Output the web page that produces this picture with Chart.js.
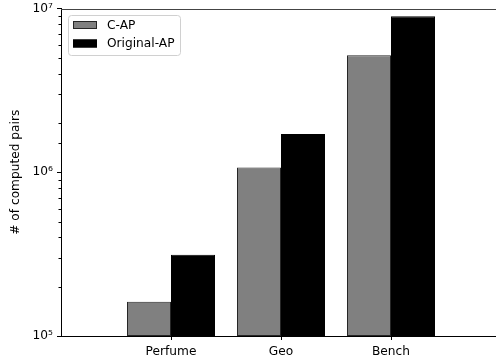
<!DOCTYPE html>
<html>
<head>
<meta charset="utf-8">
<script src="https://cdn.jsdelivr.net/npm/chart.js@4.4.0/dist/chart.umd.min.js"></script>
<style>
  html, body { margin: 0; padding: 0; background: #fff; overflow: hidden; }
  #wrap { width: 496px; height: 360px; overflow: hidden; position: relative; }
  canvas { display: block; }
</style>
</head>
<body>
<div id="wrap"><canvas id="c" width="510" height="360"></canvas></div>
<script>
// Number of computed pairs per dataset, for both AP variants
const categories = ['Perfume', 'Geo', 'Bench'];
const capValues = [162000, 1070000, 5190000];
const originalValues = [313000, 1710000, 8980000];
const yTickPowers = [5, 6, 7];
const seriesNames = ['C-AP', 'Original-AP'];

const FONT_SIZE = 12.2;
const SUP = { '0': '\u2070', '1': '\u00b9', '2': '\u00b2', '3': '\u00b3', '4': '\u2074',
              '5': '\u2075', '6': '\u2076', '7': '\u2077', '8': '\u2078', '9': '\u2079' };
const powLabel = p => '10' + String(p).split('').map(d => SUP[d]).join('');
const isPow10 = v => Math.abs(Math.log10(v) - Math.round(Math.log10(v))) < 1e-9;

Chart.defaults.font.family = "'DejaVu Sans', sans-serif";
Chart.defaults.font.size = FONT_SIZE;
Chart.defaults.color = '#000';

// Minor log ticks, top spine and the boxed legend
const decorations = {
  id: 'decorations',
  afterDraw(chart) {
    const ctx = chart.ctx;
    const area = chart.chartArea;
    const y = chart.scales.y;
    ctx.save();
    ctx.strokeStyle = '#000';
    ctx.lineWidth = 1;
    y.ticks.forEach(t => {
      if (isPow10(t.value)) return;
      const py = Math.round(y.getPixelForValue(t.value)) + 0.5;
      ctx.beginPath();
      ctx.moveTo(area.left - 2.5, py);
      ctx.lineTo(area.left, py);
      ctx.stroke();
    });
    // top spine
    ctx.strokeStyle = '#444';
    ctx.beginPath();
    ctx.moveTo(area.left, Math.round(area.top) + 0.5);
    ctx.lineTo(area.right, Math.round(area.top) + 0.5);
    ctx.stroke();

    // legend
    const lx = area.left + 7, ly = Math.round(area.top) + 6, lw = 112, lh = 40;
    ctx.fillStyle = 'rgba(255,255,255,0.85)';
    ctx.strokeStyle = '#d0d0d0';
    ctx.beginPath();
    ctx.roundRect(lx + 0.5, ly + 0.5, lw, lh, 3);
    ctx.fill();
    ctx.stroke();
    chart.data.datasets.forEach((ds, i) => {
      const ry = ly + 6 + i * 18.5;
      ctx.fillStyle = ds.backgroundColor;
      ctx.fillRect(lx + 5, ry, 24, 8);
      ctx.strokeStyle = ds.borderColor;
      ctx.strokeRect(lx + 5.5, ry + 0.5, 23, 7);
      ctx.fillStyle = '#000';
      ctx.font = FONT_SIZE + "px 'DejaVu Sans', sans-serif";
      ctx.textBaseline = 'middle';
      ctx.textAlign = 'left';
      ctx.fillText(ds.label, lx + 39, ry + 4.5);
    });
    ctx.restore();
  }
};

new Chart(document.getElementById('c'), {
  type: 'bar',
  data: {
    datasets: [
      {
        label: seriesNames[0],
        data: categories.map((c, i) => ({ x: i, y: capValues[i] })),
        backgroundColor: '#808080',
        borderColor: '#262626',
        borderWidth: 1,
        borderSkipped: false
      },
      {
        label: seriesNames[1],
        data: categories.map((c, i) => ({ x: i, y: originalValues[i] })),
        backgroundColor: '#000000',
        borderColor: '#000000',
        borderWidth: 1,
        borderSkipped: false
      }
    ]
  },
  options: {
    responsive: false,
    animation: false,
    devicePixelRatio: 1,
    layout: { padding: { top: 8.5, left: 0, right: 9, bottom: 0 } },
    datasets: { bar: { categoryPercentage: 0.8, barPercentage: 1.0 } },
    plugins: { legend: { display: false }, tooltip: { enabled: false } },
    scales: {
      x: {
        type: 'linear',
        min: -1,
        max: 3,
        offset: false,
        afterBuildTicks: s => { s.ticks = categories.map((c, i) => ({ value: i })); },
        afterFit: s => { s.height = 24; },
        ticks: { callback: v => categories[v], padding: 4.5, maxRotation: 0, autoSkip: false },
        grid: { offset: false, drawOnChartArea: false, drawTicks: true, tickLength: 4, tickColor: '#000' },
        border: { display: true, color: '#000', width: 1 }
      },
      y: {
        type: 'logarithmic',
        min: Math.pow(10, yTickPowers[0]),
        max: Math.pow(10, yTickPowers[yTickPowers.length - 1]),
        afterFit: s => { s.width = 61; },
        ticks: {
          autoSkip: false,
          padding: 4,
          font: { lineHeight: 0.7 },
          callback: v => isPow10(v) ? powLabel(Math.round(Math.log10(v))) : ''
        },
        grid: {
          offset: false,
          drawOnChartArea: false,
          drawTicks: true,
          tickLength: 4,
          tickColor: c => (c.tick && isPow10(c.tick.value)) ? '#000' : 'rgba(0,0,0,0)'
        },
        border: { display: true, color: '#000', width: 1 },
        title: { display: true, text: '# of computed pairs', padding: { top: 9, bottom: 0 } }
      }
    }
  },
  plugins: [decorations]
});
</script>
</body>
</html>
